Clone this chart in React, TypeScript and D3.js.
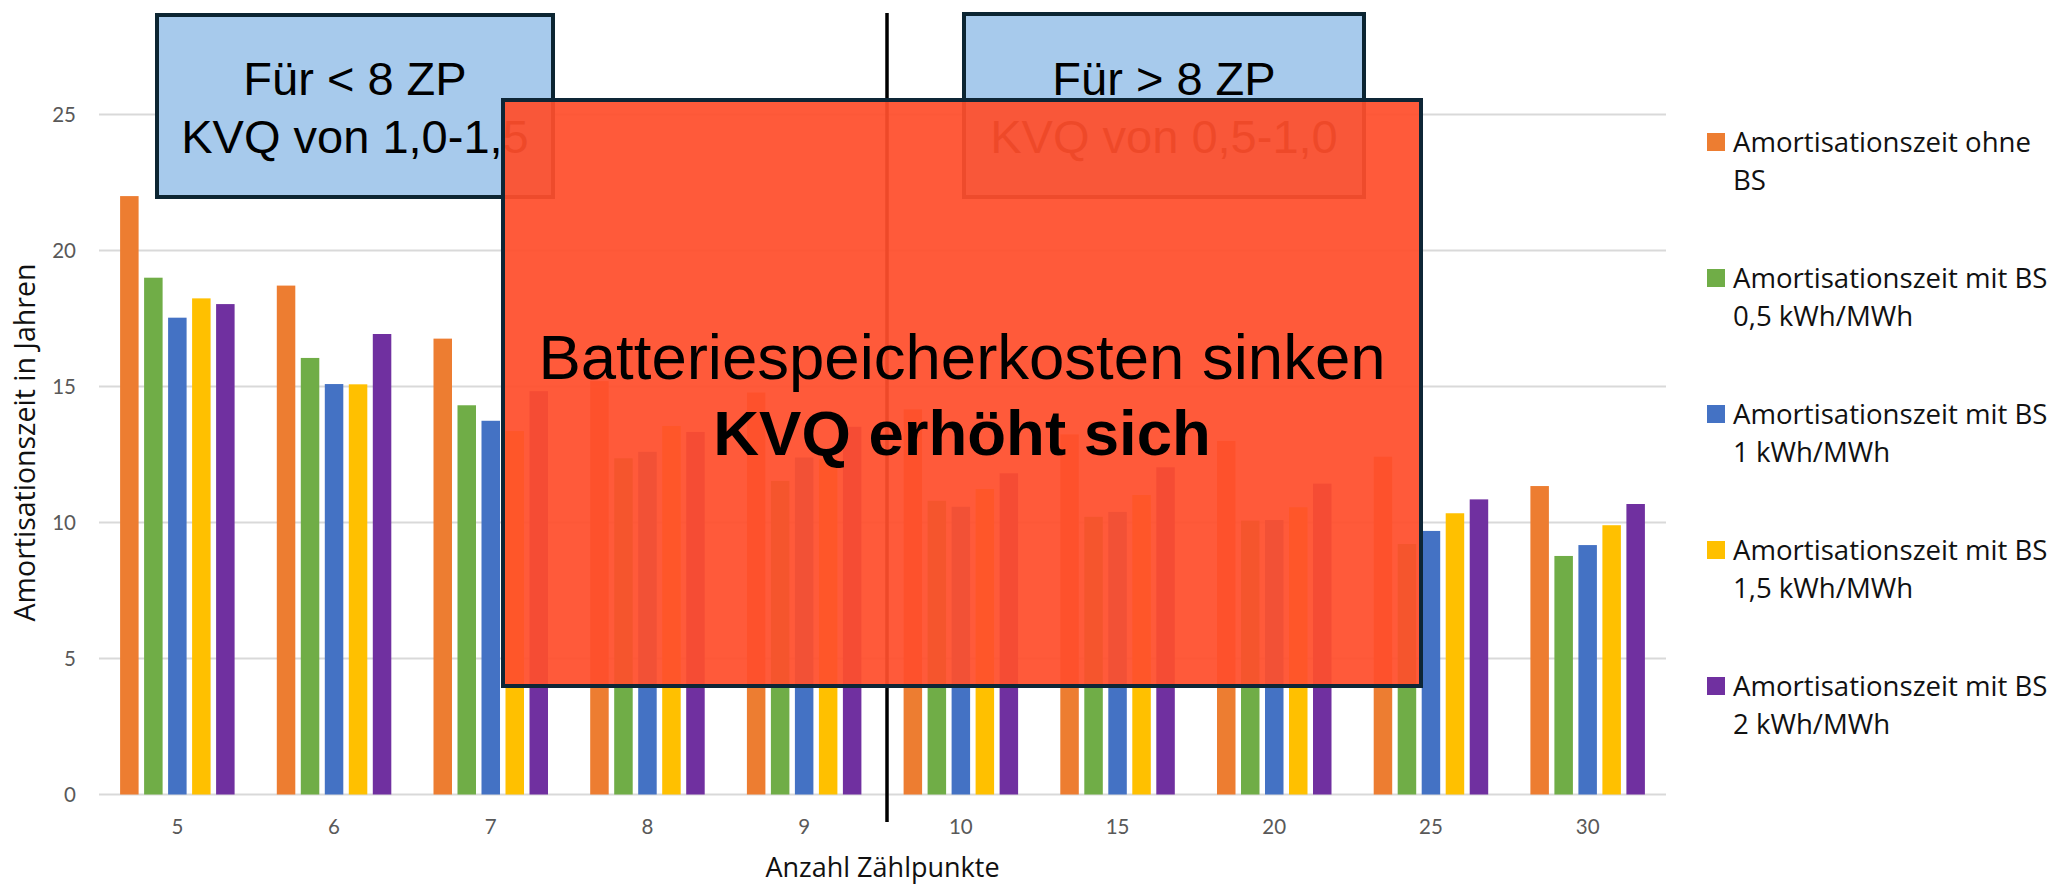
import React from "react";
import * as d3 from "d3";

const categories = ["5", "6", "7", "8", "9", "10", "15", "20", "25", "30"];
const seriesNames = [
  ["Amortisationszeit ohne", "BS"],
  ["Amortisationszeit mit BS", "0,5 kWh/MWh"],
  ["Amortisationszeit mit BS", "1 kWh/MWh"],
  ["Amortisationszeit mit BS", "1,5 kWh/MWh"],
  ["Amortisationszeit mit BS", "2 kWh/MWh"],
];
const ohneBS = [22.0, 18.71, 16.76, 15.2, 14.78, 14.16, 13.24, 13.0, 12.42, 11.34];
const mitBS05 = [19.0, 16.05, 14.31, 12.36, 11.53, 10.8, 10.21, 10.07, 9.21, 8.77];
const mitBS1 = [17.53, 15.09, 13.74, 12.6, 12.39, 10.58, 10.39, 10.09, 9.69, 9.17];
const mitBS15 = [18.24, 15.08, 13.36, 13.55, 12.33, 11.23, 11.01, 10.56, 10.34, 9.9];
const mitBS2 = [18.03, 16.93, 14.83, 13.33, 13.52, 11.81, 12.03, 11.43, 10.85, 10.68];
const seriesValues = [ohneBS, mitBS05, mitBS1, mitBS15, mitBS2];
const colors = ["#ED7D31", "#70AD47", "#4472C4", "#FFC000", "#7030A0"];
const yTicks = [0, 5, 10, 15, 20, 25];

const W = 2060;
const H = 884;

export default function App() {
  const x0 = d3.scaleBand<string>().domain(categories).range([99, 1666]).padding(0);
  const x1 = d3
    .scaleBand<number>()
    .domain(d3.range(5))
    .range([0, x0.bandwidth()])
    .paddingInner(0.229)
    .paddingOuter(0.879);
  const y = d3.scaleLinear().domain([0, 25]).range([794.5, 114.5]);

  const tickFont = "Lato, 'Open Sans', sans-serif";
  const textFont = "'Open Sans', 'DejaVu Sans', sans-serif";
  const boxFont = "'Liberation Sans', Arial, sans-serif";

  return (
    <svg
      width={W}
      height={H}
      style={{ position: "absolute", left: 0, top: 0, background: "#fff" }}
    >
      <rect x={0} y={0} width={W} height={H} fill="#fff" />
      {/* gridlines */}
      {yTicks.map((t) => (
        <line
          key={"g" + t}
          x1={99}
          x2={1666}
          y1={y(t)}
          y2={y(t)}
          stroke="#d9d9d9"
          strokeWidth={2}
        />
      ))}
      {/* y tick labels */}
      {yTicks.map((t) => (
        <text
          key={"yt" + t}
          x={76}
          y={y(t)}
          dy="0.35em"
          textAnchor="end"
          fontFamily={tickFont}
          fontSize={20.5}
          fill="#595959"
        >
          {t}
        </text>
      ))}
      {/* bars */}
      {categories.map((c, ci) => (
        <g key={"c" + c} transform={`translate(${x0(c)},0)`}>
          {seriesValues.map((vals, si) => (
            <rect
              key={si}
              x={x1(si)}
              y={y(vals[ci])}
              width={x1.bandwidth()}
              height={y(0) - y(vals[ci])}
              fill={colors[si]}
            />
          ))}
        </g>
      ))}
      {/* x tick labels */}
      {categories.map((c) => (
        <text
          key={"xt" + c}
          x={(x0(c) as number) + x0.bandwidth() / 2}
          y={834}
          textAnchor="middle"
          fontFamily={tickFont}
          fontSize={20.5}
          fill="#595959"
        >
          {c}
        </text>
      ))}
      {/* axis titles */}
      <text
        x={882.5}
        y={876.5}
        textAnchor="middle"
        fontFamily={textFont}
        fontSize={27}
        fill="#111"
      >
        Anzahl Zählpunkte
      </text>
      <text
        transform="translate(35,442.5) rotate(-90)"
        textAnchor="middle"
        fontFamily={textFont}
        fontSize={28.5}
        fill="#111"
      >
        Amortisationszeit in Jahren
      </text>
      {/* legend */}
      {seriesNames.map((lines, i) => (
        <g key={"lg" + i} transform={`translate(0,${i * 136})`}>
          <rect x={1707} y={133} width={18} height={18} fill={colors[i]} />
          <text x={1733} y={151.5} fontFamily={textFont} fontSize={27.6} fill="#111">
            {lines[0]}
          </text>
          <text x={1733} y={189.5} fontFamily={textFont} fontSize={27.6} fill="#111">
            {lines[1]}
          </text>
        </g>
      ))}
      {/* blue annotation boxes */}
      <rect x={157} y={15} width={396} height={182} fill="#A7CAEC" stroke="#0c2532" strokeWidth={4} />
      <text x={355} y={95} textAnchor="middle" fontFamily={boxFont} fontSize={47} fill="#000">
        Für &lt; 8 ZP
      </text>
      <text x={355} y={153} textAnchor="middle" fontFamily={boxFont} fontSize={47} fill="#000">
        KVQ von 1,0-1,5
      </text>
      <rect x={964} y={14} width={400} height={183} fill="#A7CAEC" stroke="#0c2532" strokeWidth={4} />
      <text x={1164} y={95} textAnchor="middle" fontFamily={boxFont} fontSize={47} fill="#000">
        Für &gt; 8 ZP
      </text>
      <text x={1164} y={153} textAnchor="middle" fontFamily={boxFont} fontSize={47} fill="#000">
        KVQ von 0,5-1,0
      </text>
      {/* vertical divider */}
      <line x1={887} x2={887} y1={13} y2={822} stroke="#000" strokeWidth={3.5} />
      {/* red overlay box */}
      <rect
        x={503}
        y={100}
        width={918}
        height={586}
        fill="#FF4E2C"
        fillOpacity={0.935}
        stroke="#0e2636"
        strokeWidth={4}
      />
      <text x={962} y={378.5} textAnchor="middle" fontFamily={boxFont} fontSize={63.5} fill="#000">
        Batteriespeicherkosten sinken
      </text>
      <text
        x={962}
        y={455}
        textAnchor="middle"
        fontFamily={boxFont}
        fontSize={63.5}
        fontWeight="bold"
        fill="#000"
      >
        KVQ erhöht sich
      </text>
    </svg>
  );
}
